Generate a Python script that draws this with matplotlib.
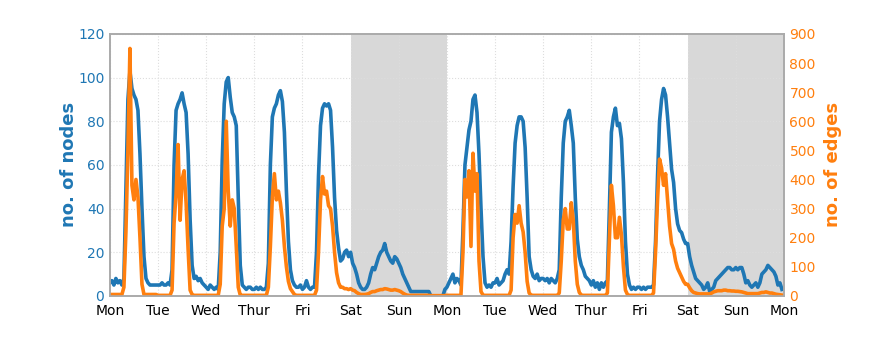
import numpy as np
import matplotlib
matplotlib.use('Agg')
import matplotlib.pyplot as plt

# hourly readings, one row of 24 per day, Mon..Sun
nodes_week1 = [
    6, 7, 5, 8, 6, 7, 5, 8, 50, 90, 103, 95, 92, 90, 85, 65, 40, 18, 8, 6, 5, 5, 5, 5,
    5, 5, 6, 5, 5, 6, 5, 12, 60, 85, 88, 90, 93, 88, 84, 65, 35, 14, 8, 9, 7, 8, 6, 5,
    4, 3, 5, 4, 3, 4, 3, 20, 62, 88, 98, 100, 91, 84, 82, 78, 45, 14, 5, 4, 3, 4, 4, 3,
    3, 4, 3, 4, 3, 3, 4, 15, 60, 82, 86, 88, 92, 94, 89, 75, 48, 25, 12, 7, 5, 4, 4, 5,
    3, 4, 7, 4, 3, 4, 4, 20, 55, 78, 86, 88, 87, 88, 85, 68, 45, 30, 22, 16, 17, 20, 21, 18,
    20, 15, 13, 10, 6, 4, 3, 3, 4, 6, 10, 13, 12, 15, 18, 20, 21, 24, 20, 18, 16, 15, 18, 17,
    15, 13, 10, 8, 6, 4, 2, 2, 2, 2, 2, 2, 2, 2, 2, 2, 0, 0, 0, 0, 0, 0, 0, 3,
]
nodes_week2 = [
    4, 6, 8, 10, 6, 8, 7, 5, 30, 60, 68, 76, 80, 90, 92, 84, 65, 40, 18, 6, 4, 5, 4, 6,
    6, 8, 5, 6, 7, 10, 12, 10, 25, 50, 70, 78, 82, 82, 80, 68, 45, 18, 12, 9, 8, 10, 7, 8,
    8, 7, 8, 6, 8, 7, 6, 8, 12, 45, 70, 80, 82, 85, 78, 70, 45, 26, 18, 14, 12, 9, 8, 7,
    5, 7, 4, 6, 3, 6, 4, 6, 7, 40, 75, 82, 86, 78, 79, 72, 52, 25, 10, 5, 3, 4, 3, 4,
    4, 3, 4, 3, 4, 4, 4, 5, 25, 55, 80, 90, 95, 92, 82, 70, 58, 52, 40, 33, 30, 29, 26, 24,
    24, 18, 14, 11, 8, 7, 6, 5, 3, 4, 6, 2, 3, 4, 7, 8, 9, 10, 11, 12, 13, 13, 12, 12,
    13, 12, 13, 13, 10, 6, 7, 5, 4, 5, 6, 4, 6, 10, 11, 12, 14, 13, 12, 11, 9, 5, 6, 3,
]
edges_week1 = [
    5, 5, 5, 5, 5, 5, 5, 30, 220, 500, 850, 380, 330, 400, 340, 200, 40, 5, 5, 5, 5, 5, 5, 5,
    2, 2, 2, 2, 2, 2, 2, 20, 250, 350, 520, 260, 400, 430, 320, 160, 20, 5, 2, 2, 2, 2, 2, 2,
    2, 2, 2, 2, 2, 2, 2, 40, 240, 300, 600, 360, 240, 330, 300, 170, 30, 3, 2, 2, 2, 2, 2, 2,
    2, 2, 2, 2, 2, 2, 2, 30, 170, 340, 420, 330, 360, 320, 260, 170, 100, 50, 25, 15, 5, 2, 2, 2,
    2, 2, 2, 2, 2, 2, 2, 20, 150, 330, 410, 350, 360, 310, 300, 240, 150, 80, 45, 30, 30, 25, 25, 22,
    25, 20, 18, 12, 8, 5, 5, 5, 6, 8, 12, 15, 15, 18, 20, 22, 22, 25, 24, 22, 20, 20, 22, 20,
    18, 15, 10, 6, 3, 2, 2, 2, 2, 2, 2, 2, 2, 2, 2, 2, 1, 1, 1, 1, 1, 1, 1, 1,
]
edges_week2 = [
    2, 2, 2, 2, 2, 2, 2, 2, 150, 400, 340, 430, 170, 490, 360, 420, 120, 15, 3, 2, 2, 2, 2, 2,
    2, 2, 2, 2, 2, 2, 2, 2, 20, 200, 280, 250, 310, 250, 220, 150, 50, 10, 3, 2, 2, 2, 2, 2,
    2, 2, 2, 2, 2, 2, 2, 2, 10, 120, 260, 300, 230, 230, 320, 260, 120, 40, 12, 3, 2, 2, 2, 2,
    2, 2, 2, 2, 2, 2, 2, 2, 10, 200, 380, 310, 200, 200, 270, 210, 100, 20, 5, 2, 2, 2, 2, 2,
    2, 2, 2, 2, 2, 2, 2, 10, 150, 330, 470, 440, 380, 420, 330, 240, 180, 160, 120, 95, 80, 65, 50, 40,
    40, 28, 18, 12, 10, 8, 7, 7, 7, 7, 7, 7, 10, 14, 16, 18, 18, 18, 20, 20, 18, 18, 17, 17,
    16, 16, 15, 14, 12, 10, 8, 8, 8, 8, 8, 8, 10, 12, 12, 14, 12, 10, 10, 8, 6, 5, 4, 3,
]
day_labels = ['Mon', 'Tue', 'Wed', 'Thur', 'Fri', 'Sat', 'Sun',
              'Mon', 'Tue', 'Wed', 'Thur', 'Fri', 'Sat', 'Sun', 'Mon']
weekends = [(5, 7), (12, 14)]

nodes = np.array(nodes_week1 + nodes_week2)
edges = np.array(edges_week1 + edges_week2)
t = np.arange(len(nodes)) / 24.0

blue = '#1f77b4'
orange = '#ff7f0e'

fig = plt.figure(figsize=(8.72, 3.39), dpi=100)
ax = fig.add_axes([0.126, 0.127, 0.773, 0.773])
ax2 = ax.twinx()

for a, b in weekends:
    ax.axvspan(a, b, color='#d8d8d8', lw=0, zorder=0)

ax.plot(t, nodes, color=blue, lw=2.6)
ax2.plot(t, edges, color=orange, lw=2.6)

ax.set_xlim(0, 14)
ax.set_ylim(0, 120)
ax2.set_ylim(0, 900)
ax.set_xticks(range(15))
ax.set_xticklabels(day_labels)
ax.set_yticks(range(0, 121, 20))
ax2.set_yticks(range(0, 901, 100))

ax.grid(True, color='#dddddd', linestyle=':', lw=0.8)
ax.tick_params(axis='both', length=0, labelsize=10)
ax.tick_params(axis='y', colors=blue, pad=4)
ax.tick_params(axis='x', colors='black', pad=6)
ax2.tick_params(axis='y', length=0, labelsize=10, colors=orange, pad=4)

ax.set_ylabel('no. of nodes', color=blue, fontsize=13, fontweight='bold', labelpad=0)
ax2.set_ylabel('no. of edges', color=orange, fontsize=13, fontweight='bold', labelpad=6)

for a in (ax, ax2):
    for s in a.spines.values():
        s.set_color('#aaaaaa')
        s.set_linewidth(1.2)

fig.savefig('out.png', dpi=100)
